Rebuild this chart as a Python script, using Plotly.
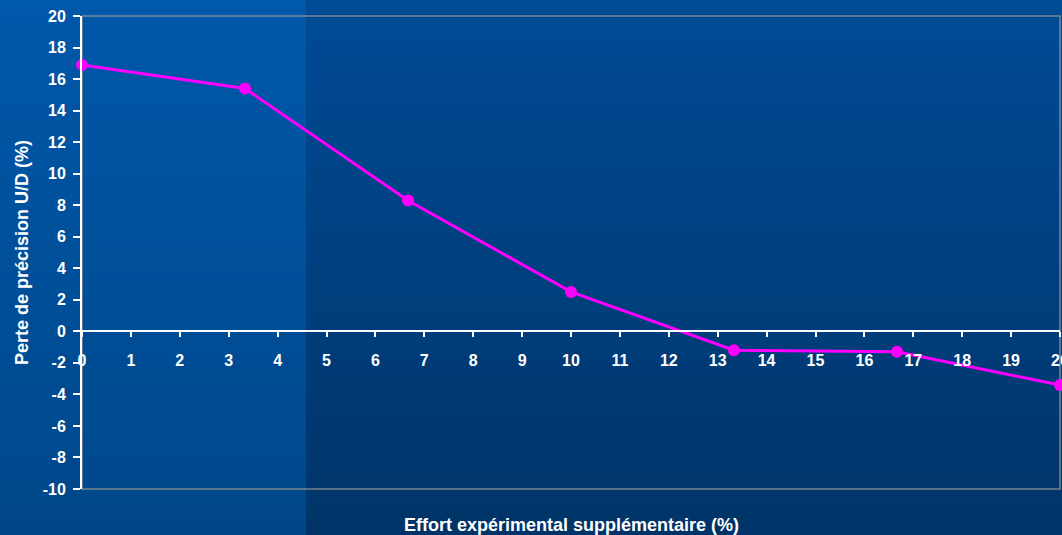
import plotly.graph_objects as go

effort = [0, 3.333, 6.667, 10, 13.333, 16.667, 20]
perte = [16.9, 15.4, 8.3, 2.5, -1.2, -1.3, -3.4]
x_ticks = list(range(0, 21))
y_ticks = list(range(-10, 21, 2))
y_tick_text = [str(v).replace("\u2212", "-") for v in y_ticks]

W, H = 1062, 535
ML, MR, MT, MB = 82, 2, 16, 46
PW, PH = W - ML - MR, H - MT - MB

def px_to_paper_x(px):
    return (px - ML) / PW

def px_to_paper_y(py):
    return (H - MB - py) / PH

def lerp(c1, c2, t):
    return "rgb(%d,%d,%d)" % tuple(round(a + (b - a) * t) for a, b in zip(c1, c2))

left_top, left_bot = (0, 88, 170), (0, 71, 138)
right_top, right_bot = (0, 75, 150), (0, 52, 104)
split_px = 306

shapes = []
n = 36
for i in range(n):
    y0p = i * H / n
    y1p = (i + 1) * H / n
    t = (i + 0.5) / n
    for (xa, xb, ct, cb) in [(0, split_px, left_top, left_bot), (split_px, W, right_top, right_bot)]:
        shapes.append(dict(type="rect", xref="paper", yref="paper",
                           x0=px_to_paper_x(xa), x1=px_to_paper_x(xb),
                           y0=px_to_paper_y(y1p + 0.5), y1=px_to_paper_y(y0p),
                           fillcolor=lerp(ct, cb, t), line=dict(width=0), layer="below"))
# plot border
shapes.append(dict(type="rect", xref="paper", yref="paper", x0=0, x1=1, y0=0, y1=1,
                   line=dict(color="rgba(150,150,150,0.8)", width=1.5), layer="below"))

font = dict(family="Liberation Sans, Arial, sans-serif", size=16, color="white", weight="bold")
title_font = dict(font, size=18)

fig = go.Figure()
fig.add_trace(go.Scatter(x=effort, y=perte, mode="lines+markers",
                         line=dict(color="#ff00ff", width=3),
                         marker=dict(color="#ff00ff", size=12),
                         cliponaxis=False, showlegend=False))

fig.update_layout(
    width=W, height=H,
    margin=dict(l=ML, r=MR, t=MT, b=MB, pad=0, autoexpand=False),
    paper_bgcolor="#003f80", plot_bgcolor="rgba(0,0,0,0)",
    shapes=shapes,
    font=font,
    xaxis=dict(range=[0, 20], tickvals=x_ticks, ticktext=[str(v) for v in x_ticks],
               showgrid=False, zeroline=False, showline=True, linecolor="white", linewidth=2,
               ticks="outside", ticklen=5, tickwidth=2, tickcolor="white",
               anchor="free", position=1/3, tickfont=font, ticklabelstandoff=9,
               ticklabeloverflow="allow", automargin=False),
    yaxis=dict(range=[-10, 20], tickvals=y_ticks, ticktext=y_tick_text,
               showgrid=False, zeroline=False,
               showline=True, linecolor="white", linewidth=2,
               ticks="outside", ticklen=7, tickwidth=2, tickcolor="white",
               tickfont=font, ticklabelstandoff=4, automargin=False,
               title=dict(text="Perte de précision U/D (%)", font=title_font, standoff=9)),
    annotations=[dict(text="Effort expérimental supplémentaire (%)", xref="paper", yref="paper",
                      x=0.5, y=0, xanchor="center", yanchor="top", yshift=-24,
                      showarrow=False, font=title_font)],
)

fig.write_html("out.html", config={"displayModeBar": False},
               post_script="document.body.style.margin='0';document.body.style.overflow='hidden';")
